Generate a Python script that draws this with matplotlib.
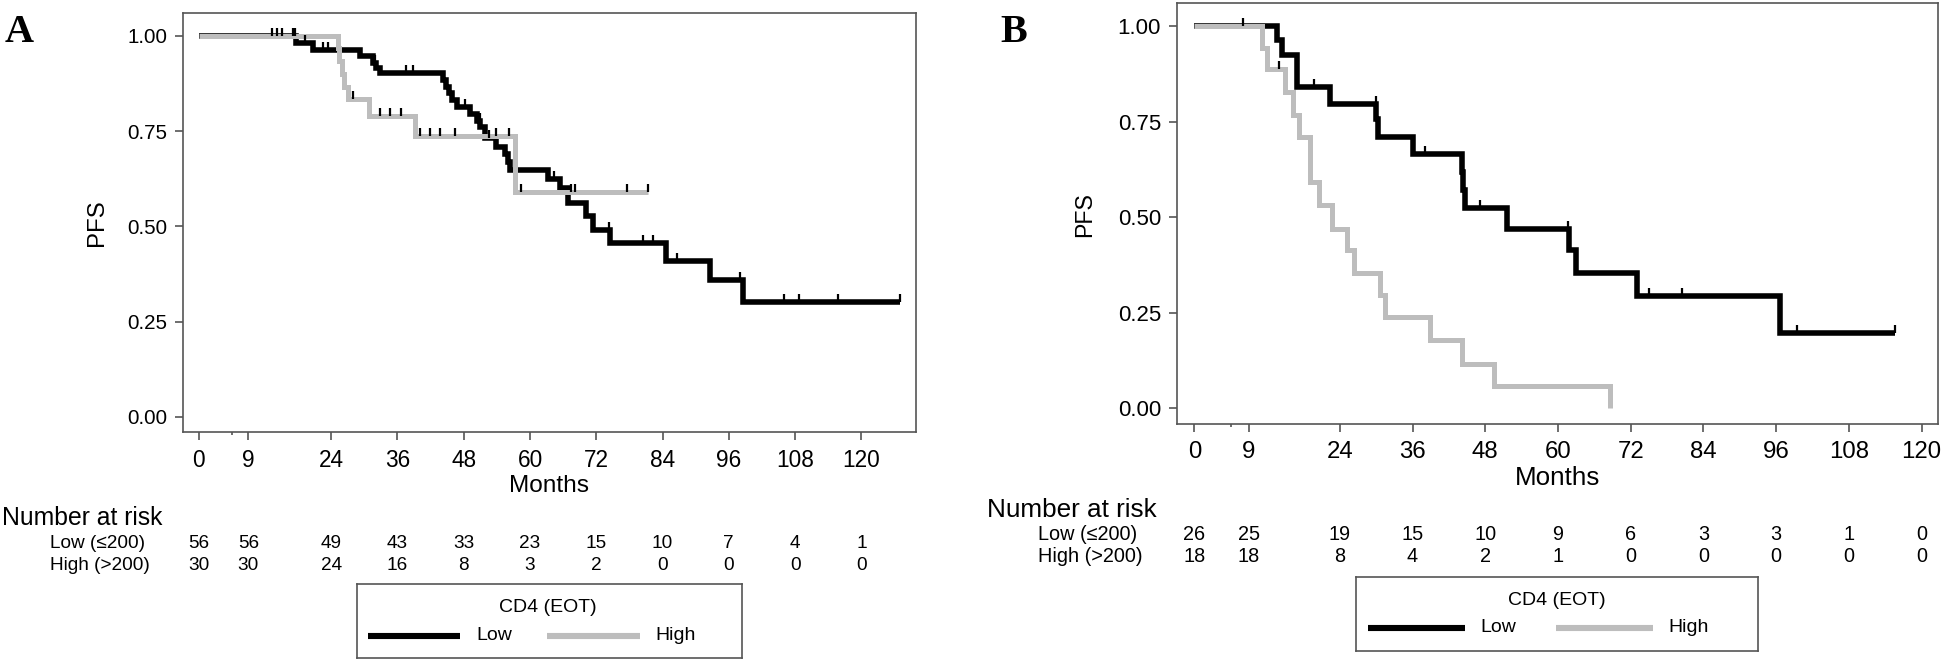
import numpy as np
import matplotlib
matplotlib.use("Agg")
import matplotlib.pyplot as plt
from matplotlib.transforms import blended_transform_factory

plt.rcParams['font.family'] = ['Liberation Sans', 'DejaVu Sans']

W, H = 1946, 663

ticks = [0, 9, 24, 36, 48, 60, 72, 84, 96, 108, 120]
yticks = [0, 0.25, 0.5, 0.75, 1.0]
ytick_labels = ['0.00', '0.25', '0.50', '0.75', '1.00']
row_labels = ["Low (\u2264200)", "High (>200)"]
group_names = ["Low", "High"]
legend_title = "CD4 (EOT)"

# panel A, Low group (black)
a_low_t = [0, 17.7, 20.7, 29.2, 31.6, 32.2, 32.8, 44.3, 44.8, 45.3, 45.9, 46.7,
           49.1, 50.4, 51.0, 51.8, 53.9, 55.4, 56.0, 56.3, 63.3, 65.4, 66.9,
           70.2, 71.4, 74.5, 84.7, 92.6, 98.6]
a_low_s = [1.0, 0.982, 0.964, 0.946, 0.928, 0.915, 0.902, 0.884, 0.866, 0.849,
           0.832, 0.814, 0.795, 0.777, 0.760, 0.731, 0.709, 0.690, 0.670, 0.648,
           0.624, 0.600, 0.562, 0.526, 0.491, 0.456, 0.408, 0.360, 0.300]
a_low_end = 127.0
a_low_cens = [13.2, 14.1, 15.0, 17.0, 17.4, 19.2, 22.5, 23.4, 31.9, 37.6, 38.8,
              46.1, 48.2, 49.4, 50.9, 52.6, 56.4, 64.4, 74.3, 80.5, 82.3, 86.6,
              98.0, 106.0, 108.7, 115.8, 127.0]

# panel A, High group (gray)
a_high_t = [0, 25.2, 25.5, 25.9, 26.3, 27.0, 30.9, 39.1, 57.2]
a_high_s = [1.0, 0.967, 0.933, 0.900, 0.867, 0.833, 0.790, 0.738, 0.591]
a_high_end = 81.4
a_high_cens = [28.0, 32.8, 34.6, 36.7, 40.1, 41.9, 43.7, 46.4, 53.8, 56.2,
               58.3, 67.4, 68.2, 77.5, 81.4]

a_risk_low = [56, 56, 49, 43, 33, 23, 15, 10, 7, 4, 1]
a_risk_high = [30, 30, 24, 16, 8, 3, 2, 0, 0, 0, 0]

# panel B, Low group (black)
b_low_t = [0, 13.6, 14.4, 16.9, 22.4, 30.0, 30.3, 36.1, 44.2, 44.4, 44.7, 51.6,
           61.8, 62.9, 73.1, 96.7]
b_low_s = [1.0, 0.962, 0.923, 0.840, 0.797, 0.756, 0.710, 0.666, 0.618, 0.570,
           0.523, 0.469, 0.414, 0.353, 0.294, 0.196]
b_low_end = 115.6
b_low_cens = [8.0, 19.7, 29.9, 38.1, 47.2, 61.6, 75.0, 80.5, 99.5, 115.6]

# panel B, High group (gray)
b_high_t = [0, 11.1, 12.0, 15.0, 16.3, 17.2, 19.1, 20.5, 22.7, 25.2, 26.3, 30.7,
            31.5, 38.9, 44.2, 49.4, 68.6]
b_high_s = [1.0, 0.942, 0.887, 0.828, 0.767, 0.710, 0.592, 0.531, 0.470, 0.414,
            0.353, 0.296, 0.239, 0.178, 0.117, 0.059, 0.0]
b_high_end = 68.6
b_high_cens = [14.0]

b_risk_low = [26, 25, 19, 15, 10, 9, 6, 3, 3, 1, 0]
b_risk_high = [18, 18, 8, 4, 2, 1, 0, 0, 0, 0, 0]

BLACK = 'black'
GRAY = '#bdbdbd'
EDGE = '#555555'


def fx(x):
    return x / W


def fy(y):
    return 1 - y / H


def surv_at(times, surv, t):
    idx = np.searchsorted(times, t, side='right') - 1
    return np.asarray(surv)[idx]


def km(ax, times, surv, end, cens, color, lw, z):
    ax.step(list(times) + [end], list(surv) + [surv[-1]], where='post',
            color=color, lw=lw, zorder=z, solid_capstyle='butt',
            solid_joinstyle='miter')
    ax.plot(cens, surv_at(times, surv, cens), linestyle='none', marker=2,
            color=BLACK, ms=6, mew=1.6, zorder=5)


def setup(ax, xlim, ylim, yfs, xfs):
    ax.set_xlim(*xlim)
    ax.set_ylim(*ylim)
    ax.set_xticks(ticks)
    ax.set_xticks([6], minor=True)
    ax.set_yticks(yticks)
    ax.set_yticklabels(ytick_labels)
    ax.tick_params(axis='x', which='major', direction='out', length=6, width=1.2,
                   color=EDGE, pad=6, labelsize=xfs)
    ax.tick_params(axis='x', which='minor', direction='out', length=2.5,
                   width=1.2, color=EDGE)
    ax.tick_params(axis='y', direction='out', length=5.5, width=1.2, color=EDGE,
                   pad=6, labelsize=yfs)
    for s in ax.spines.values():
        s.set_color(EDGE)
        s.set_linewidth(1.2)


def risk_table(fig, ax, low, high, nar_x, nar_y, lab_x, rows_y, nar_fs, fs):
    fig.text(fx(nar_x), fy(nar_y), "Number at risk", ha='left', va='center',
             size=nar_fs)
    tr = blended_transform_factory(ax.transData, fig.transFigure)
    for lab, vals, y in zip(row_labels, [low, high], rows_y):
        fig.text(fx(lab_x), fy(y), lab, ha='left', va='center', size=fs)
        for t, v in zip(ticks, vals):
            fig.text(t, fy(y), str(v), transform=tr, ha='center', va='center',
                     size=fs)


def legend_box(fig, box, title_xy, lines, text_x, item_y, fs):
    x0, x1, y0, y1 = box
    lax = fig.add_axes([fx(x0), fy(y1), (x1 - x0) / W, (y1 - y0) / H])
    lax.set_xlim(x0, x1)
    lax.set_ylim(y1, y0)
    lax.set_xticks([])
    lax.set_yticks([])
    for s in lax.spines.values():
        s.set_color(EDGE)
        s.set_linewidth(1.2)
    lax.text(title_xy[0], title_xy[1], legend_title, ha='center', va='center',
             size=fs)
    for (lx0, lx1), tx, name, col in zip(lines, text_x, group_names, [BLACK, GRAY]):
        lax.plot([lx0, lx1], [item_y, item_y], color=col, lw=4.4,
                 solid_capstyle='butt')
        lax.text(tx, item_y, name, ha='left', va='center', size=fs)


fig = plt.figure(figsize=(W / 100, H / 100), dpi=100)

# panel A
axA = fig.add_axes([fx(183), fy(432), (916 - 183) / W, (432 - 13) / H])
km(axA, a_low_t, a_low_s, a_low_end, a_low_cens, BLACK, 4.0, 3)
km(axA, a_high_t, a_high_s, a_high_end, a_high_cens, GRAY, 3.6, 4)
setup(axA, (-2.84, 129.9), (-0.040, 1.060), 14.8, 16.3)
fig.text(fx(97), fy(223), "PFS", rotation=90, ha='center', va='center', size=17.3)
fig.text(fx(549), fy(486), "Months", ha='center', va='center', size=17.6)
fig.text(fx(5), fy(42), "A", family='Liberation Serif', weight='bold', size=29,
         ha='left', va='baseline')
risk_table(fig, axA, a_risk_low, a_risk_high, 2, 518, 50, [543, 565], 17.8, 13.7)
legend_box(fig, (357, 742, 584, 658), (548, 608), [(368, 460), (547, 640)],
           [476, 655], 636, 14)

# panel B
axB = fig.add_axes([fx(1177), fy(424), (1938 - 1177) / W, (424 - 3) / H])
km(axB, b_low_t, b_low_s, b_low_end, b_low_cens, BLACK, 4.0, 3)
km(axB, b_high_t, b_high_s, b_high_end, b_high_cens, GRAY, 3.6, 4)
setup(axB, (-2.86, 122.7), (-0.041, 1.060), 16, 17.3)
fig.text(fx(1085), fy(215), "PFS", rotation=90, ha='center', va='center', size=16.7)
fig.text(fx(1558), fy(478), "Months", ha='center', va='center', size=18.7)
fig.text(fx(1000), fy(42), "B", family='Liberation Serif', weight='bold', size=29,
         ha='left', va='baseline')
risk_table(fig, axB, b_risk_low, b_risk_high, 987, 510, 1038, [535, 557], 18.8, 14.3)
legend_box(fig, (1356, 1758, 577, 651), (1557, 601), [(1368, 1465), (1556, 1653)],
           [1480, 1668], 628, 14)

fig.savefig("out.png", dpi=100)
